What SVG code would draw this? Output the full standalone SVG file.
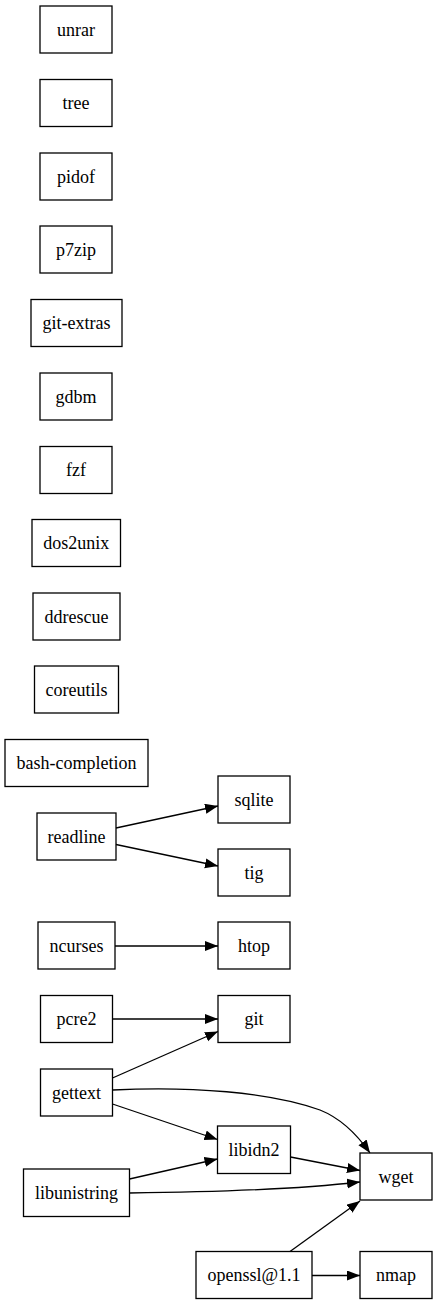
<svg xmlns="http://www.w3.org/2000/svg" width="437" height="1305" viewBox="0 0 437 1305">
<style>
rect{fill:#fff;stroke:#000;stroke-width:1.3}
text{font-family:"Liberation Serif","Tinos","Nimbus Roman","Nimbus Roman No9 L","FreeSerif","Noto Serif","DejaVu Serif","Times New Roman",Times,serif;font-size:18px;text-anchor:middle;fill:#000}
.e path{fill:none;stroke:#000;stroke-width:1.3}
</style>
<defs>
<marker id="ah" markerWidth="14" markerHeight="11" refX="13" refY="5" orient="auto" markerUnits="userSpaceOnUse">
<path d="M0,0 L13,5 L0,10 Z" fill="#000"/>
</marker>
</defs>
<rect x="0" y="0" width="437" height="1305" style="stroke:none"/>
<g id="unrar"><rect x="40" y="6" width="72" height="47"/><text x="76" y="35.5">unrar</text></g>
<g id="tree"><rect x="40" y="79.5" width="72" height="47"/><text x="76" y="109">tree</text></g>
<g id="pidof"><rect x="40" y="153" width="72" height="47"/><text x="76" y="182.5">pidof</text></g>
<g id="p7zip"><rect x="40" y="226" width="72" height="47"/><text x="76" y="255.5">p7zip</text></g>
<g id="git-extras"><rect x="31" y="299.5" width="91" height="47"/><text x="76.5" y="329">git-extras</text></g>
<g id="gdbm"><rect x="40" y="373" width="72" height="47"/><text x="76" y="402.5">gdbm</text></g>
<g id="fzf"><rect x="40" y="446.5" width="72" height="47"/><text x="76" y="476">fzf</text></g>
<g id="dos2unix"><rect x="32" y="519.5" width="88.5" height="47"/><text x="76.2" y="549">dos2unix</text></g>
<g id="ddrescue"><rect x="33" y="593" width="87" height="47"/><text x="76.5" y="622.5">ddrescue</text></g>
<g id="coreutils"><rect x="34.5" y="666" width="84" height="47"/><text x="76.5" y="695.5">coreutils</text></g>
<g id="bash-completion"><rect x="5" y="739.5" width="143" height="47"/><text x="76.5" y="769">bash-completion</text></g>
<g id="readline"><rect x="37" y="813" width="79" height="47"/><text x="76.5" y="842.5">readline</text></g>
<g id="sqlite"><rect x="218" y="776" width="72" height="47"/><text x="254" y="805.5">sqlite</text></g>
<g id="tig"><rect x="218" y="849" width="72" height="47"/><text x="254" y="878.5">tig</text></g>
<g id="ncurses"><rect x="38" y="922" width="77" height="47"/><text x="76.5" y="951.5">ncurses</text></g>
<g id="htop"><rect x="218" y="922" width="72" height="47"/><text x="254" y="951.5">htop</text></g>
<g id="pcre2"><rect x="40.5" y="995.5" width="72" height="47"/><text x="76.5" y="1025">pcre2</text></g>
<g id="git"><rect x="218" y="995.5" width="72" height="47"/><text x="254" y="1025">git</text></g>
<g id="gettext"><rect x="40.5" y="1069" width="72" height="47"/><text x="76.5" y="1098.5">gettext</text></g>
<g id="libidn2"><rect x="217.5" y="1126" width="73" height="47.5"/><text x="254" y="1155.5">libidn2</text></g>
<g id="libunistring"><rect x="23.5" y="1169" width="106" height="47.5"/><text x="76.5" y="1198.5">libunistring</text></g>
<g id="wget"><rect x="360" y="1153" width="72" height="47"/><text x="396" y="1182.5">wget</text></g>
<g id="openssl"><rect x="196" y="1251.5" width="116" height="47"/><text x="254" y="1281">openssl@1.1</text></g>
<g id="nmap"><rect x="360" y="1251.5" width="72" height="47"/><text x="396" y="1281">nmap</text></g>
<g class="e" id="edges">
<path d="M116,828 L218,806" marker-end="url(#ah)"/>
<path d="M116,844.5 L218,866" marker-end="url(#ah)"/>
<path d="M115,946 L218,946" marker-end="url(#ah)"/>
<path d="M112.5,1019 L218,1019" marker-end="url(#ah)"/>
<path d="M112.5,1078 L218,1031.5" marker-end="url(#ah)"/>
<path d="M112.5,1090 C190,1086 270,1092 320,1110 C340,1118 356,1133 370,1153" marker-end="url(#ah)"/>
<path d="M112.5,1104 L217.5,1139.5" marker-end="url(#ah)"/>
<path d="M290.5,1157 L360,1170.5" marker-end="url(#ah)"/>
<path d="M129.5,1179 L217.5,1159" marker-end="url(#ah)"/>
<path d="M129.5,1193 C220,1192 300,1189 360,1182" marker-end="url(#ah)"/>
<path d="M290,1251.5 L360,1201" marker-end="url(#ah)"/>
<path d="M312,1275.5 L360,1275.5" marker-end="url(#ah)"/>
</g>
</svg>
